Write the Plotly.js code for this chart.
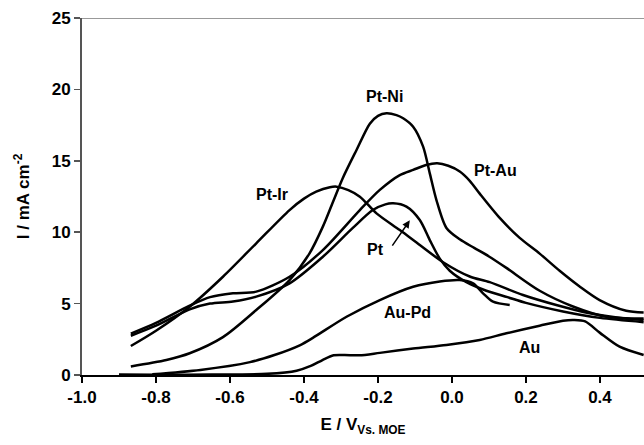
<!DOCTYPE html>
<html>
<head>
<meta charset="utf-8">
<script src="https://cdn.plot.ly/plotly-3.0.1.min.js"></script>
<style>html,body{margin:0;padding:0;background:#fff;}#chart{width:644px;height:445px;}</style>
</head>
<body>
<div id="chart"></div>
<script>
// Data (E / V vs. MOE, I / mA cm^-2)
const ptNiE = [-0.868, -0.772, -0.709, -0.619, -0.529, -0.439, -0.385, -0.349, -0.322, -0.295, -0.258, -0.222, -0.2, -0.177, -0.15, -0.132, -0.105, -0.078, -0.06, -0.042, -0.015, 0.021, 0.06, 0.1, 0.147, 0.237, 0.327, 0.417, 0.518];
const ptNiI = [0.6, 1.05, 1.52, 2.65, 4.55, 6.65, 8.52, 10.39, 12.1, 13.8, 15.76, 17.6, 18.15, 18.33, 18.2, 17.98, 17.39, 15.99, 14.12, 12.25, 10.3, 9.5, 8.9, 8.3, 7.5, 5.9, 4.8, 4.08, 3.95];

const ptAuE = [-0.868, -0.8, -0.709, -0.654, -0.592, -0.529, -0.439, -0.349, -0.249, -0.195, -0.141, -0.105, -0.07, -0.04, -0.01, 0.021, 0.048, 0.075, 0.129, 0.183, 0.237, 0.291, 0.345, 0.399, 0.471, 0.518];
const ptAuI = [2.9, 3.65, 4.85, 5.45, 5.72, 5.84, 6.88, 8.75, 11.55, 12.96, 14.0, 14.36, 14.7, 14.82, 14.65, 14.25, 13.6, 12.7, 11.0, 9.6, 8.5, 7.3, 6.2, 5.25, 4.5, 4.38];

const ptE = [-0.868, -0.8, -0.709, -0.654, -0.592, -0.529, -0.439, -0.349, -0.268, -0.214, -0.18, -0.159, -0.123, -0.087, -0.06, -0.033, -0.006, 0.039, 0.093, 0.15, 0.2, 0.3, 0.4, 0.518];
const ptI = [2.75, 3.45, 4.6, 5.0, 5.15, 5.49, 6.42, 8.28, 10.3, 11.55, 11.95, 12.02, 11.79, 10.85, 9.45, 8.15, 7.3, 6.5, 5.9, 5.45, 5.05, 4.45, 4.0, 3.7];

const ptIrE = [-0.868, -0.8, -0.709, -0.619, -0.529, -0.439, -0.4, -0.367, -0.33, -0.312, -0.28, -0.249, -0.204, -0.141, -0.087, -0.024, 0.048, 0.102, 0.192, 0.282, 0.372, 0.462, 0.518];
const ptIrI = [2.03, 3.1, 4.78, 6.88, 9.22, 11.55, 12.35, 12.84, 13.15, 13.19, 12.95, 12.49, 11.32, 10.15, 9.1, 7.9, 6.9, 6.5, 5.6, 4.9, 4.32, 3.97, 3.85];

const auPdE = [-0.81, -0.68, -0.546, -0.48, -0.41, -0.376, -0.285, -0.195, -0.105, -0.033, 0.021, 0.057, 0.084, 0.111, 0.156];
const auPdI = [0.05, 0.35, 0.9, 1.4, 2.1, 2.6, 4.08, 5.25, 6.18, 6.55, 6.65, 6.42, 5.72, 5.13, 4.9];

const auE = [-0.9, -0.8, -0.65, -0.5, -0.42, -0.38, -0.35, -0.32, -0.29, -0.25, -0.195, -0.105, -0.015, 0.075, 0.147, 0.237, 0.3, 0.33, 0.36, 0.4, 0.453, 0.518];
const auI = [0.03, 0.02, 0.03, 0.08, 0.3, 0.65, 1.05, 1.38, 1.4, 1.38, 1.55, 1.85, 2.1, 2.45, 2.92, 3.45, 3.8, 3.85, 3.75, 2.95, 1.98, 1.4];

const seriesNames = ['Pt-Ni', 'Pt-Au', 'Pt', 'Pt-Ir', 'Au-Pd', 'Au'];
const seriesE = [ptNiE, ptAuE, ptE, ptIrE, auPdE, auE];
const seriesI = [ptNiI, ptAuI, ptI, ptIrI, auPdI, auI];

// Curve labels (text, E, I)
const labelText = ['Pt-Ni', 'Pt-Au', 'Pt-Ir', 'Pt', 'Au-Pd', 'Au'];
const labelE = [-0.182, 0.117, -0.487, -0.207, -0.121, 0.209];
const labelI = [19.5, 14.3, 12.65, 8.8, 4.36, 1.94];
// Arrow for Pt (tail -> head)
const arrowTail = [-0.164, 8.95];
const arrowHead = [-0.114, 10.83];

const xTicks = [-1.0, -0.8, -0.6, -0.4, -0.2, 0.0, 0.2, 0.4];
const yTicks = [0, 5, 10, 15, 20, 25];

const FONT = 'Liberation Sans, Arial, sans-serif';

const traces = seriesNames.map((n, i) => ({
  x: seriesE[i], y: seriesI[i], name: n, type: 'scatter', mode: 'lines',
  line: {color: '#000', width: 2.5, shape: 'spline', smoothing: 0.8},
  showlegend: false, hoverinfo: 'skip'
}));

const annotations = labelText.map((t, i) => ({
  x: labelE[i], y: labelI[i], xref: 'x', yref: 'y', text: t, showarrow: false,
  font: {family: FONT, size: 16, color: '#000', weight: 700}
}));
annotations.push({
  x: arrowHead[0], y: arrowHead[1], ax: arrowTail[0], ay: arrowTail[1],
  xref: 'x', yref: 'y', axref: 'x', ayref: 'y', text: '', showarrow: true,
  arrowhead: 2, arrowsize: 1, arrowwidth: 1.5, arrowcolor: '#000'
});

const layout = {
  width: 644, height: 445,
  margin: {l: 82, r: 0, t: 18, b: 70},
  paper_bgcolor: '#fff', plot_bgcolor: '#fff',
  font: {family: FONT, color: '#000'},
  xaxis: {
    range: [-1.0, 0.519], tickvals: xTicks, ticktext: xTicks.map(v => v.toFixed(1)),
    showgrid: false, zeroline: false, showline: true, linecolor: '#000', linewidth: 1.5,
    ticks: 'outside', ticklen: 6, tickwidth: 1.5, tickcolor: '#000',
    tickfont: {family: FONT, size: 17, color: '#000', weight: 700},
    title: {text: 'E / V<sub>Vs. MOE</sub>', standoff: 12, font: {family: FONT, size: 17, color: '#000', weight: 700}}
  },
  yaxis: {
    range: [0, 25], tickvals: yTicks,
    showgrid: false, zeroline: false, showline: true, linecolor: '#555', linewidth: 2,
    ticks: 'outside', ticklen: 6, tickwidth: 1.5, tickcolor: '#555',
    tickfont: {family: FONT, size: 17, color: '#000', weight: 700},
    title: {text: 'I / mA cm<sup>-2</sup>', standoff: 18, font: {family: FONT, size: 17, color: '#000', weight: 700}}
  },
  shapes: [{type: 'line', xref: 'paper', yref: 'y', x0: 0, x1: 1, y0: 25, y1: 25,
            line: {color: '#999', width: 2}}],
  annotations: annotations
};

Plotly.newPlot('chart', traces, layout, {staticPlot: true, displayModeBar: false});
</script>
</body>
</html>
